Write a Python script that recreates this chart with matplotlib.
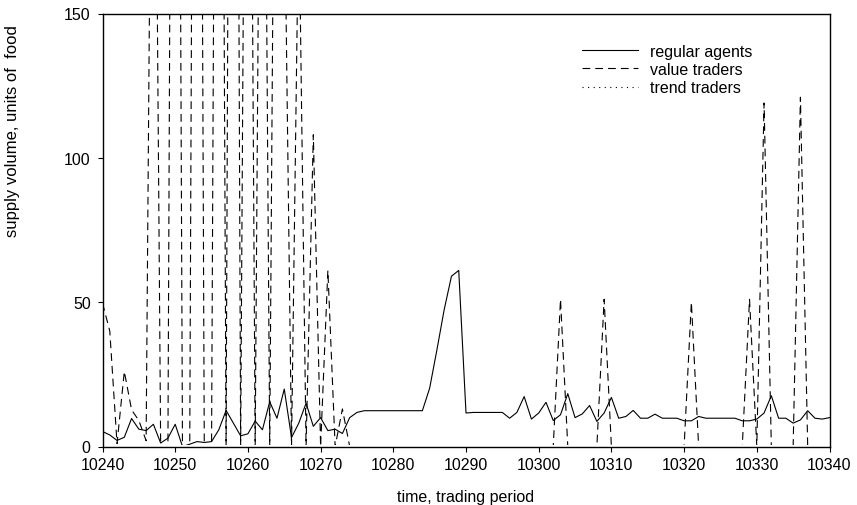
import numpy as np
import matplotlib
matplotlib.use("Agg")
import matplotlib.pyplot as plt
from matplotlib.patches import Rectangle

plt.rcParams["font.family"] = ["Liberation Sans", "DejaVu Sans"]

# trading periods
time = np.arange(10240, 10341)

# supply volume of regular agents
regular_agents = [
    5.2, 4.0, 2.1, 3.2, 9.7, 6.0, 5.5, 7.7, 1.2, 2.9,
    7.7, 0.0, 0.8, 1.7, 1.4, 1.7, 5.8, 12.5, 8.1, 3.7,
    4.4, 8.8, 5.8, 15.5, 9.8, 19.9, 3.1, 8.1, 15.0, 7.0,
    10.0, 5.5, 6.0, 4.5, 10.0, 11.8, 12.4, 12.4, 12.4, 12.4,
    12.4, 12.4, 12.4, 12.4, 12.4, 20.2, 33.5, 47.4, 59.0, 61.0,
    11.6, 11.8, 11.8, 11.8, 11.8, 11.8, 9.8, 11.8, 17.3, 9.5,
    11.6, 15.3, 9.0, 11.0, 18.3, 10.0, 11.3, 14.2, 8.7, 11.6,
    17.0, 9.8, 10.4, 12.5, 9.8, 9.8, 11.2, 9.8, 9.8, 9.8,
    8.9, 8.9, 10.4, 9.8, 9.8, 9.8, 9.8, 9.8, 8.9, 8.9,
    9.5, 11.6, 17.6, 9.8, 9.8, 8.1, 9.2, 12.4, 9.8, 9.5,
    10.0,
]

# supply volume of value traders (peaks go far off the chart)
value_traders = [
    49.7, 40.0, 1.0, 26.0, 12.7, 9.0, 2.0, 330.0, 0.0, 0.0,
    600.0, 0.0, 0.0, 620.0, 0.0, 0.0, 550.0, 0.0, 650.0, 0.0,
    420.0, 0.0, 360.0, 0.0, 360.0, 200.0, 0.0, 190.0, 0.0, 108.0,
    0.0, 61.0, 0.0, 13.0, 0.0, 0.0, 0.0, 0.0, 0.0, 0.0,
    0.0, 0.0, 0.0, 0.0, 0.0, 0.0, 0.0, 0.0, 0.0, 0.0,
    0.0, 0.0, 0.0, 0.0, 0.0, 0.0, 0.0, 0.0, 0.0, 0.0,
    0.0, 0.0, 0.0, 51.0, 0.0, 0.0, 0.0, 0.0, 0.0, 51.0,
    0.0, 0.0, 0.0, 0.0, 0.0, 0.0, 0.0, 0.0, 0.0, 0.0,
    0.0, 50.0, 0.0, 0.0, 0.0, 0.0, 0.0, 0.0, 0.0, 51.0,
    0.0, 119.0, 0.0, 0.0, 0.0, 0.0, 121.0, 0.0, 0.0, 0.0,
    0.0,
]

# supply volume of trend traders (stays on the axis)
trend_traders = [
    0.0, 0.0, 0.0, 0.0, 0.0, 0.0, 0.0, 0.0, 0.0, 0.0,
    0.0, 0.0, 0.0, 0.0, 0.0, 0.0, 0.0, 0.0, 0.0, 0.0,
    0.0, 0.0, 0.0, 0.0, 0.0, 0.0, 0.0, 0.0, 0.0, 0.0,
    0.0, 0.0, 0.0, 0.0, 0.0, 0.0, 0.0, 0.0, 0.0, 0.0,
    0.0, 0.0, 0.0, 0.0, 0.0, 0.0, 0.0, 0.0, 0.0, 0.0,
    0.0, 0.0, 0.0, 0.0, 0.0, 0.0, 0.0, 0.0, 0.0, 0.0,
    0.0, 0.0, 0.0, 0.0, 0.0, 0.0, 0.0, 0.0, 0.0, 0.0,
    0.0, 0.0, 0.0, 0.0, 0.0, 0.0, 0.0, 0.0, 0.0, 0.0,
    0.0, 0.0, 0.0, 0.0, 0.0, 0.0, 0.0, 0.0, 0.0, 0.0,
    0.0, 0.0, 0.0, 0.0, 0.0, 0.0, 0.0, 0.0, 0.0, 0.0,
    0.0,
]

x_ticks = [10240, 10250, 10260, 10270, 10280, 10290, 10300, 10310, 10320, 10330, 10340]
y_ticks = [0, 50, 100, 150]

fig = plt.figure(figsize=(8.57, 5.06), dpi=100)
ax = fig.add_axes([102.5 / 857, 58.5 / 506, 727 / 857, 433 / 506])

l1, = ax.plot(time, regular_agents, color="black", lw=0.8, zorder=2, label="regular agents")
l2, = ax.plot(time, value_traders, color="black", lw=0.8, dashes=(7, 4.5), zorder=1, label="value traders")
l3, = ax.plot(time, trend_traders, color="black", lw=0.8, dashes=(1, 4), zorder=1, label="trend traders")

# lines lying on zero hide behind the x axis, so clip a hair above it
clip = Rectangle((0, 0.003), 1, 0.997, transform=ax.transAxes)
for ln in (l1, l2, l3):
    ln.set_clip_path(clip)

ax.set_xlim(10240, 10340)
ax.set_ylim(0, 150)
ax.set_xticks(x_ticks)
ax.set_yticks(y_ticks)
ax.tick_params(direction="out", length=3.5, width=0.8, labelsize=11.5, top=False, right=False)
ax.tick_params(axis="y", pad=5)
ax.tick_params(axis="x", pad=4)
for s in ax.spines.values():
    s.set_linewidth(1.0)
    s.set_zorder(3)

ax.set_xlabel("time, trading period", fontsize=11.5, labelpad=12)
ax.set_ylabel("supply volume, units of  food", fontsize=12)
ax.yaxis.set_label_coords(-0.114, 0.73)

ax.legend(loc="upper left", bbox_to_anchor=(0.66, 0.93), frameon=False, fontsize=11.5,
          handlelength=3.5, handletextpad=0.75, labelspacing=0.2, borderaxespad=0.0,
          borderpad=0.0)

fig.savefig("out.png", dpi=100)
